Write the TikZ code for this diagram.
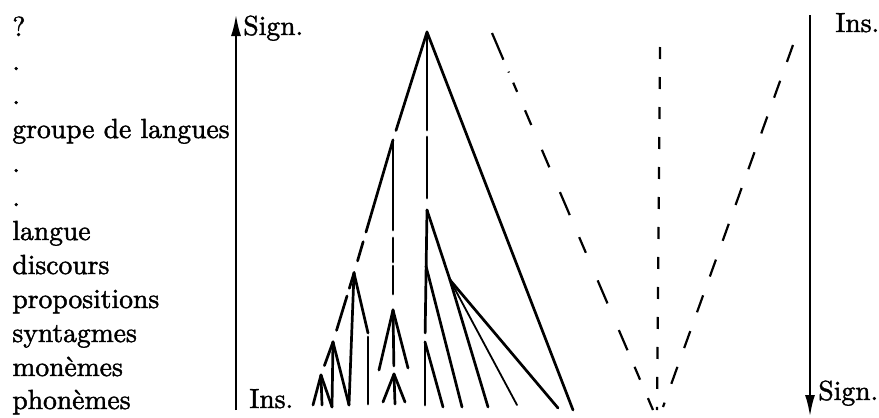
\documentclass[tikz,border=0pt]{standalone}
\usepackage{fontspec}
\usepackage{xcolor}
\usepackage{tikz}
\usetikzlibrary{arrows.meta}

\newfontfamily\levelfont{lmroman10-regular.otf}[FakeBold=1.6]

\tikzset{
    levelname/.style={anchor=base west, inner sep=0pt, font=\levelfont\fontsize{13.8}{17}\selectfont},
    branch/.style={line width=1.35pt, line cap=round},
    thinbranch/.style={line width=0.9pt, line cap=round},
    guide/.style={line width=1.1pt},
    axisline/.style={line width=1.3pt, -{Latex[length=11pt,width=5pt]}}
}

\begin{document}
\begin{tikzpicture}[x=0.5pt, y=-0.5pt]
    \useasboundingbox (0,0) rectangle (879,418);

    % Level names
    \node[levelname] (qm)   at (12,36)  {?};
    \node[levelname] (dtA)  at (12,70)  {.};
    \node[levelname] (dtB)  at (12,104) {.};
    \node[levelname] (grpl) at (12,138) {groupe de langues};
    \node[levelname] (dtC)  at (12,172) {.};
    \node[levelname] (dtD)  at (12,206) {.};
    \node[levelname] (lngl) at (12,240) {langue};
    \node[levelname] (dscl) at (12,274) {discours};
    \node[levelname] (prpl) at (12,308) {propositions};
    \node[levelname] (synl) at (12,342) {syntagmes};
    \node[levelname] (monl) at (12,376) {monèmes};
    \node[levelname] (phnl) at (12,409) {phonèmes};

    % Left axis
    \coordinate (axLlow) at (236,410);
    \coordinate (axLtop) at (236,14);
    \draw[axisline] (axLlow) -- (axLtop);
    \node[levelname] (signL) at (243,35)  {Sign.};
    \node[levelname] (insL)  at (249,408) {Ins.};

    % Right axis
    \coordinate (axRtop) at (810,15);
    \coordinate (axRlow) at (810,417);
    \draw[axisline] (axRtop) -- (axRlow);
    \node[levelname] (insR)  at (835,32)  {Ins.};
    \node[levelname] (signR) at (818,400) {Sign.};

    % Branch points of the tree
    \coordinate (top) at (427,32);
    \coordinate (grp) at (393,140);
    \coordinate (lng) at (427,210);
    \coordinate (dsc) at (426,266);
    \coordinate (fan) at (450,280);
    \coordinate (prp) at (354,273);
    \coordinate (rgt) at (368,333);
    \coordinate (mid) at (393,310);
    \coordinate (syn) at (333,342);
    \coordinate (low) at (425,342);
    \coordinate (phA) at (321,375);
    \coordinate (phB) at (394,374);
    \coordinate (mdL) at (379,370);
    \coordinate (mdR) at (408,368);

    % Leaves
    \coordinate (lfA) at (313,405);
    \coordinate (lfB) at (322,405);
    \coordinate (lfC) at (332,407);
    \coordinate (lfD) at (349,405);
    \coordinate (lfE) at (368,404);
    \coordinate (lfF) at (383,402);
    \coordinate (lfG) at (395,404);
    \coordinate (lfH) at (405,402);
    \coordinate (lfI) at (425,405);
    \coordinate (lfJ) at (443,407);
    \coordinate (lfK) at (462,407);
    \coordinate (lfL) at (488,407);
    \coordinate (lfM) at (517,405);
    \coordinate (lfN) at (558,408);
    \coordinate (lfO) at (573,410);

    % Upper branches
    \draw[branch, shorten >=5pt] (top) -- (grp);
    \draw[branch, dash pattern=on 49pt off 3.5pt on 30.5pt off 6pt] (top) -- (lng);
    \draw[branch] (top) -- (lfO);
    \draw[branch, dash pattern=on 48pt off 5pt on 10pt off 6pt] (grp) -- (prp);
    \draw[branch, dash pattern=on 45pt off 4pt on 12pt off 2pt on 14pt off 8pt] (grp) -- (mid);

    % Langue branch
    \draw[branch, shorten >=4.5pt] (lng) -- (low);
    \draw[branch] (lng) -- (fan);
    \draw[branch] (dsc) -- (lfK);
    \draw[branch] (fan) -- (lfL);
    \draw[thinbranch] (fan) -- (lfM);
    \draw[branch] (fan) -- (lfN);
    \draw[branch] (low) -- (lfI);
    \draw[branch] (low) -- (lfJ);

    % Propositions branch
    \draw[branch, dash pattern=on 8pt off 4pt on 18pt off 6pt] (prp) -- (syn);
    \draw[branch] (prp) -- (rgt);
    \draw[branch, shorten <=2pt] (rgt) -- (lfE);
    \draw[branch] (prp) -- (lfD);
    \draw[branch] (syn) -- (lfC);
    \draw[branch] (syn) -- (lfD);
    \draw[branch, shorten >=5pt] (syn) -- (phA);
    \draw[branch] (phA) -- (lfA);
    \draw[branch] (phA) -- (lfB);
    \draw[branch] (phA) -- (lfC);

    % Middle branch
    \draw[branch] (mid) -- (mdL);
    \draw[branch] (mid) -- (mdR);
    \draw[branch, shorten >=4pt] (mid) -- (phB);
    \draw[branch] (phB) -- (lfF);
    \draw[branch] (phB) -- (lfG);
    \draw[branch] (phB) -- (lfH);

    % Broken lines on the right
    \coordinate (ddTop) at (492,33);
    \coordinate (ddLow) at (653,410);
    \coordinate (vtTop) at (660,47);
    \coordinate (vtLow) at (657,410);
    \coordinate (dgTop) at (793,45);
    \coordinate (dgLow) at (663,407);
    \draw[guide, dash pattern=on 14.5pt off 6.5pt on 0.5pt off 5.5pt on 5pt off 10pt on 8pt off 13.5pt on 9.5pt off 13.5pt on 12.5pt off 12pt on 8.5pt off 15pt on 12.5pt off 14.5pt on 11pt off 9pt on 7pt off 10pt on 6.5pt] (ddTop) -- (ddLow);
    \draw[guide, dash pattern=on 6pt off 9pt] (vtTop) -- (vtLow);
    \draw[guide, dash pattern=on 9pt off 10pt] (dgTop) -- (dgLow);
\end{tikzpicture}
\end{document}
